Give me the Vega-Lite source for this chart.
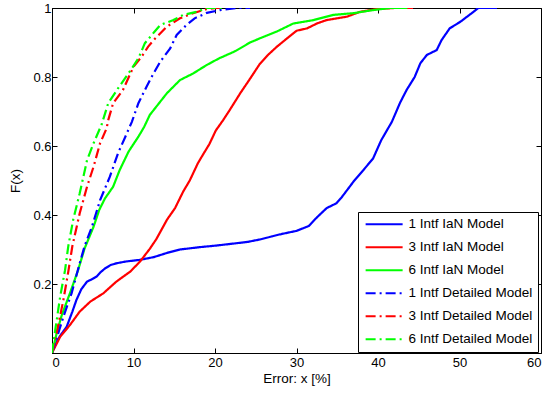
{
  "$schema": "https://vega.github.io/schema/vega-lite/v6.json",
  "width": 489,
  "height": 345,
  "autosize": {"type": "none"},
  "padding": {"left": 52, "top": 8, "right": 7, "bottom": 43},
  "background": "white",
  "config": {
    "view": {"stroke": "black", "strokeWidth": 1},
    "font": "Liberation Sans",
    "axis": {
      "grid": false,
      "domainColor": "black",
      "tickColor": "black",
      "labelColor": "black",
      "titleColor": "black",
      "labelFont": "Liberation Sans",
      "titleFont": "Liberation Sans",
      "labelFontSize": 13,
      "titleFontSize": 13.5,
      "titleFontWeight": "normal",
      "tickSize": -5
    }
  },
  "data": {
    "values": [
      {"s": "1 Intf IaN Model", "x": 0, "y": 0},
      {"s": "1 Intf IaN Model", "x": 0.5, "y": 0.03},
      {"s": "1 Intf IaN Model", "x": 1.0, "y": 0.05},
      {"s": "1 Intf IaN Model", "x": 1.8, "y": 0.076},
      {"s": "1 Intf IaN Model", "x": 2.5, "y": 0.12},
      {"s": "1 Intf IaN Model", "x": 3.0, "y": 0.154},
      {"s": "1 Intf IaN Model", "x": 3.6, "y": 0.185},
      {"s": "1 Intf IaN Model", "x": 4.3, "y": 0.207},
      {"s": "1 Intf IaN Model", "x": 5.0, "y": 0.215},
      {"s": "1 Intf IaN Model", "x": 5.5, "y": 0.222},
      {"s": "1 Intf IaN Model", "x": 6.0, "y": 0.235},
      {"s": "1 Intf IaN Model", "x": 6.5, "y": 0.245},
      {"s": "1 Intf IaN Model", "x": 7.2, "y": 0.255},
      {"s": "1 Intf IaN Model", "x": 7.9, "y": 0.26},
      {"s": "1 Intf IaN Model", "x": 9.0, "y": 0.265},
      {"s": "1 Intf IaN Model", "x": 10.8, "y": 0.27},
      {"s": "1 Intf IaN Model", "x": 12.5, "y": 0.278},
      {"s": "1 Intf IaN Model", "x": 14.1, "y": 0.29},
      {"s": "1 Intf IaN Model", "x": 15.7, "y": 0.3},
      {"s": "1 Intf IaN Model", "x": 18.2, "y": 0.307},
      {"s": "1 Intf IaN Model", "x": 20.0, "y": 0.311},
      {"s": "1 Intf IaN Model", "x": 22.2, "y": 0.317},
      {"s": "1 Intf IaN Model", "x": 24.0, "y": 0.322},
      {"s": "1 Intf IaN Model", "x": 25.5, "y": 0.329},
      {"s": "1 Intf IaN Model", "x": 27.0, "y": 0.338},
      {"s": "1 Intf IaN Model", "x": 28.0, "y": 0.344},
      {"s": "1 Intf IaN Model", "x": 30.0, "y": 0.354},
      {"s": "1 Intf IaN Model", "x": 31.5, "y": 0.368},
      {"s": "1 Intf IaN Model", "x": 32.5, "y": 0.393},
      {"s": "1 Intf IaN Model", "x": 33.7, "y": 0.42},
      {"s": "1 Intf IaN Model", "x": 34.9, "y": 0.434},
      {"s": "1 Intf IaN Model", "x": 35.5, "y": 0.45},
      {"s": "1 Intf IaN Model", "x": 36.3, "y": 0.475},
      {"s": "1 Intf IaN Model", "x": 37.0, "y": 0.497},
      {"s": "1 Intf IaN Model", "x": 38.2, "y": 0.53},
      {"s": "1 Intf IaN Model", "x": 39.4, "y": 0.564},
      {"s": "1 Intf IaN Model", "x": 40.4, "y": 0.617},
      {"s": "1 Intf IaN Model", "x": 41.7, "y": 0.67},
      {"s": "1 Intf IaN Model", "x": 42.7, "y": 0.725},
      {"s": "1 Intf IaN Model", "x": 43.5, "y": 0.762},
      {"s": "1 Intf IaN Model", "x": 44.5, "y": 0.8},
      {"s": "1 Intf IaN Model", "x": 45.2, "y": 0.84},
      {"s": "1 Intf IaN Model", "x": 46.0, "y": 0.864},
      {"s": "1 Intf IaN Model", "x": 47.2, "y": 0.878},
      {"s": "1 Intf IaN Model", "x": 47.8, "y": 0.907},
      {"s": "1 Intf IaN Model", "x": 48.8, "y": 0.941},
      {"s": "1 Intf IaN Model", "x": 50.1, "y": 0.96},
      {"s": "1 Intf IaN Model", "x": 51.5, "y": 0.985},
      {"s": "1 Intf IaN Model", "x": 52.3, "y": 1},
      {"s": "1 Intf IaN Model", "x": 54.6, "y": 1},

      {"s": "3 Intf IaN Model", "x": 0, "y": 0},
      {"s": "3 Intf IaN Model", "x": 1.0, "y": 0.047},
      {"s": "3 Intf IaN Model", "x": 2.2, "y": 0.081},
      {"s": "3 Intf IaN Model", "x": 3.4, "y": 0.12},
      {"s": "3 Intf IaN Model", "x": 4.7, "y": 0.149},
      {"s": "3 Intf IaN Model", "x": 6.3, "y": 0.173},
      {"s": "3 Intf IaN Model", "x": 7.9, "y": 0.207},
      {"s": "3 Intf IaN Model", "x": 9.6, "y": 0.236},
      {"s": "3 Intf IaN Model", "x": 10.8, "y": 0.265},
      {"s": "3 Intf IaN Model", "x": 12.0, "y": 0.302},
      {"s": "3 Intf IaN Model", "x": 12.8, "y": 0.33},
      {"s": "3 Intf IaN Model", "x": 13.5, "y": 0.36},
      {"s": "3 Intf IaN Model", "x": 14.1, "y": 0.386},
      {"s": "3 Intf IaN Model", "x": 15.1, "y": 0.42},
      {"s": "3 Intf IaN Model", "x": 16.1, "y": 0.468},
      {"s": "3 Intf IaN Model", "x": 16.9, "y": 0.5},
      {"s": "3 Intf IaN Model", "x": 17.9, "y": 0.55},
      {"s": "3 Intf IaN Model", "x": 18.6, "y": 0.578},
      {"s": "3 Intf IaN Model", "x": 19.3, "y": 0.605},
      {"s": "3 Intf IaN Model", "x": 20.1, "y": 0.645},
      {"s": "3 Intf IaN Model", "x": 21.0, "y": 0.675},
      {"s": "3 Intf IaN Model", "x": 21.8, "y": 0.704},
      {"s": "3 Intf IaN Model", "x": 23.1, "y": 0.753},
      {"s": "3 Intf IaN Model", "x": 24.3, "y": 0.795},
      {"s": "3 Intf IaN Model", "x": 25.5, "y": 0.838},
      {"s": "3 Intf IaN Model", "x": 26.5, "y": 0.864},
      {"s": "3 Intf IaN Model", "x": 27.6, "y": 0.888},
      {"s": "3 Intf IaN Model", "x": 29.0, "y": 0.915},
      {"s": "3 Intf IaN Model", "x": 30.0, "y": 0.934},
      {"s": "3 Intf IaN Model", "x": 31.3, "y": 0.941},
      {"s": "3 Intf IaN Model", "x": 32.5, "y": 0.955},
      {"s": "3 Intf IaN Model", "x": 33.7, "y": 0.965},
      {"s": "3 Intf IaN Model", "x": 36.2, "y": 0.975},
      {"s": "3 Intf IaN Model", "x": 37.8, "y": 0.989},
      {"s": "3 Intf IaN Model", "x": 39.8, "y": 0.997},
      {"s": "3 Intf IaN Model", "x": 42.0, "y": 1},
      {"s": "3 Intf IaN Model", "x": 44.3, "y": 1},

      {"s": "6 Intf IaN Model", "x": 0, "y": 0},
      {"s": "6 Intf IaN Model", "x": 0.6, "y": 0.06},
      {"s": "6 Intf IaN Model", "x": 1.2, "y": 0.11},
      {"s": "6 Intf IaN Model", "x": 2.2, "y": 0.173},
      {"s": "6 Intf IaN Model", "x": 3.2, "y": 0.24},
      {"s": "6 Intf IaN Model", "x": 4.0, "y": 0.303},
      {"s": "6 Intf IaN Model", "x": 5.1, "y": 0.366},
      {"s": "6 Intf IaN Model", "x": 5.8, "y": 0.415},
      {"s": "6 Intf IaN Model", "x": 6.5, "y": 0.448},
      {"s": "6 Intf IaN Model", "x": 7.5, "y": 0.482},
      {"s": "6 Intf IaN Model", "x": 8.3, "y": 0.53},
      {"s": "6 Intf IaN Model", "x": 9.4, "y": 0.584},
      {"s": "6 Intf IaN Model", "x": 10.6, "y": 0.627},
      {"s": "6 Intf IaN Model", "x": 11.3, "y": 0.655},
      {"s": "6 Intf IaN Model", "x": 12.0, "y": 0.69},
      {"s": "6 Intf IaN Model", "x": 12.8, "y": 0.714},
      {"s": "6 Intf IaN Model", "x": 14.1, "y": 0.753},
      {"s": "6 Intf IaN Model", "x": 15.7, "y": 0.791},
      {"s": "6 Intf IaN Model", "x": 17.3, "y": 0.81},
      {"s": "6 Intf IaN Model", "x": 19.0, "y": 0.835},
      {"s": "6 Intf IaN Model", "x": 20.5, "y": 0.854},
      {"s": "6 Intf IaN Model", "x": 22.5, "y": 0.875},
      {"s": "6 Intf IaN Model", "x": 24.3, "y": 0.9},
      {"s": "6 Intf IaN Model", "x": 25.5, "y": 0.912},
      {"s": "6 Intf IaN Model", "x": 27.6, "y": 0.932},
      {"s": "6 Intf IaN Model", "x": 29.6, "y": 0.955},
      {"s": "6 Intf IaN Model", "x": 32.1, "y": 0.965},
      {"s": "6 Intf IaN Model", "x": 34.5, "y": 0.98},
      {"s": "6 Intf IaN Model", "x": 37.0, "y": 0.985},
      {"s": "6 Intf IaN Model", "x": 39.4, "y": 0.994},
      {"s": "6 Intf IaN Model", "x": 41.5, "y": 1},
      {"s": "6 Intf IaN Model", "x": 43.6, "y": 1},

      {"s": "1 Intf Detailed Model", "x": 0, "y": 0},
      {"s": "1 Intf Detailed Model", "x": 1.4, "y": 0.105},
      {"s": "1 Intf Detailed Model", "x": 2.4, "y": 0.173},
      {"s": "1 Intf Detailed Model", "x": 3.4, "y": 0.26},
      {"s": "1 Intf Detailed Model", "x": 4.0, "y": 0.31},
      {"s": "1 Intf Detailed Model", "x": 4.9, "y": 0.366},
      {"s": "1 Intf Detailed Model", "x": 5.9, "y": 0.443},
      {"s": "1 Intf Detailed Model", "x": 7.1, "y": 0.511},
      {"s": "1 Intf Detailed Model", "x": 8.1, "y": 0.579},
      {"s": "1 Intf Detailed Model", "x": 9.0, "y": 0.627},
      {"s": "1 Intf Detailed Model", "x": 9.8, "y": 0.67},
      {"s": "1 Intf Detailed Model", "x": 10.6, "y": 0.724},
      {"s": "1 Intf Detailed Model", "x": 11.6, "y": 0.772},
      {"s": "1 Intf Detailed Model", "x": 12.4, "y": 0.808},
      {"s": "1 Intf Detailed Model", "x": 13.3, "y": 0.845},
      {"s": "1 Intf Detailed Model", "x": 14.5, "y": 0.883},
      {"s": "1 Intf Detailed Model", "x": 15.3, "y": 0.922},
      {"s": "1 Intf Detailed Model", "x": 16.5, "y": 0.951},
      {"s": "1 Intf Detailed Model", "x": 17.5, "y": 0.97},
      {"s": "1 Intf Detailed Model", "x": 19.0, "y": 0.986},
      {"s": "1 Intf Detailed Model", "x": 20.6, "y": 0.994},
      {"s": "1 Intf Detailed Model", "x": 22.7, "y": 1},
      {"s": "1 Intf Detailed Model", "x": 24.3, "y": 1},

      {"s": "3 Intf Detailed Model", "x": 0, "y": 0},
      {"s": "3 Intf Detailed Model", "x": 0.6, "y": 0.062},
      {"s": "3 Intf Detailed Model", "x": 1.4, "y": 0.154},
      {"s": "3 Intf Detailed Model", "x": 2.0, "y": 0.236},
      {"s": "3 Intf Detailed Model", "x": 2.5, "y": 0.31},
      {"s": "3 Intf Detailed Model", "x": 3.4, "y": 0.405},
      {"s": "3 Intf Detailed Model", "x": 4.3, "y": 0.482},
      {"s": "3 Intf Detailed Model", "x": 5.1, "y": 0.54},
      {"s": "3 Intf Detailed Model", "x": 5.9, "y": 0.608},
      {"s": "3 Intf Detailed Model", "x": 6.7, "y": 0.651},
      {"s": "3 Intf Detailed Model", "x": 6.9, "y": 0.675},
      {"s": "3 Intf Detailed Model", "x": 7.5, "y": 0.724},
      {"s": "3 Intf Detailed Model", "x": 8.7, "y": 0.762},
      {"s": "3 Intf Detailed Model", "x": 10.0, "y": 0.83},
      {"s": "3 Intf Detailed Model", "x": 11.0, "y": 0.859},
      {"s": "3 Intf Detailed Model", "x": 11.8, "y": 0.888},
      {"s": "3 Intf Detailed Model", "x": 12.6, "y": 0.91},
      {"s": "3 Intf Detailed Model", "x": 14.1, "y": 0.946},
      {"s": "3 Intf Detailed Model", "x": 15.7, "y": 0.97},
      {"s": "3 Intf Detailed Model", "x": 17.3, "y": 0.985},
      {"s": "3 Intf Detailed Model", "x": 19.0, "y": 0.997},
      {"s": "3 Intf Detailed Model", "x": 20.2, "y": 1},
      {"s": "3 Intf Detailed Model", "x": 21.0, "y": 1},

      {"s": "6 Intf Detailed Model", "x": 0, "y": 0},
      {"s": "6 Intf Detailed Model", "x": 0.4, "y": 0.067},
      {"s": "6 Intf Detailed Model", "x": 1.0, "y": 0.163},
      {"s": "6 Intf Detailed Model", "x": 1.6, "y": 0.24},
      {"s": "6 Intf Detailed Model", "x": 2.0, "y": 0.31},
      {"s": "6 Intf Detailed Model", "x": 2.6, "y": 0.386},
      {"s": "6 Intf Detailed Model", "x": 3.4, "y": 0.463},
      {"s": "6 Intf Detailed Model", "x": 4.3, "y": 0.559},
      {"s": "6 Intf Detailed Model", "x": 5.1, "y": 0.608},
      {"s": "6 Intf Detailed Model", "x": 6.1, "y": 0.663},
      {"s": "6 Intf Detailed Model", "x": 6.9, "y": 0.724},
      {"s": "6 Intf Detailed Model", "x": 8.1, "y": 0.767},
      {"s": "6 Intf Detailed Model", "x": 9.8, "y": 0.825},
      {"s": "6 Intf Detailed Model", "x": 10.6, "y": 0.854},
      {"s": "6 Intf Detailed Model", "x": 11.4, "y": 0.898},
      {"s": "6 Intf Detailed Model", "x": 12.6, "y": 0.932},
      {"s": "6 Intf Detailed Model", "x": 13.3, "y": 0.951},
      {"s": "6 Intf Detailed Model", "x": 14.9, "y": 0.965},
      {"s": "6 Intf Detailed Model", "x": 16.1, "y": 0.98},
      {"s": "6 Intf Detailed Model", "x": 17.8, "y": 0.989},
      {"s": "6 Intf Detailed Model", "x": 19.0, "y": 1},
      {"s": "6 Intf Detailed Model", "x": 21.0, "y": 1}
    ]
  },
  "layer": [
    {
      "mark": {"type": "line", "strokeWidth": 2.2, "clip": true},
      "encoding": {
        "x": {
          "field": "x", "type": "quantitative",
          "scale": {"domain": [0, 60], "nice": false},
          "axis": {"values": [0, 10, 20, 30, 40, 50, 60], "title": "Error: x [%]", "labelPadding": 8, "titlePadding": 2, "domain": true}
        },
        "y": {
          "field": "y", "type": "quantitative",
          "scale": {"domain": [0, 1], "nice": false},
          "axis": {"values": [0.2, 0.4, 0.6, 0.8, 1], "format": "~g", "title": "F(x)", "labelPadding": 6, "titlePadding": 10}
        },
        "color": {
          "field": "s", "type": "nominal",
          "scale": {
            "domain": ["1 Intf IaN Model", "3 Intf IaN Model", "6 Intf IaN Model", "1 Intf Detailed Model", "3 Intf Detailed Model", "6 Intf Detailed Model"],
            "range": ["#0000ff", "#ff0000", "#00ff00", "#0000ff", "#ff0000", "#00ff00"]
          },
          "legend": {
            "title": null,
            "orient": "none",
            "legendX": 306,
            "legendY": 204,
            "symbolType": "M-1,0H7",
            "symbolSize": 85.6,
            "symbolStrokeWidth": 2,
            "symbolFillColor": "transparent",
            "labelFont": "Liberation Sans",
            "labelFontSize": 13.5,
            "labelColor": "black",
            "labelOffset": 31.5,
            "rowPadding": 8,
            "padding": 5.5,
            "strokeColor": "black",
            "fillColor": "white",
            "cornerRadius": 0
          }
        },
        "strokeDash": {
          "field": "s", "type": "nominal",
          "scale": {
            "domain": ["1 Intf IaN Model", "3 Intf IaN Model", "6 Intf IaN Model", "1 Intf Detailed Model", "3 Intf Detailed Model", "6 Intf Detailed Model"],
            "range": [[1, 0], [1, 0], [1, 0], [10, 4, 2, 4], [10, 4, 2, 4], [10, 4, 2, 4]]
          }
        }
      }
    },
    {
      "mark": {"type": "point", "opacity": 0},
      "encoding": {
        "x": {
          "field": "x", "type": "quantitative",
          "axis": {"orient": "top", "values": [0, 10, 20, 30, 40, 50, 60], "labels": false, "title": null, "domain": false}
        },
        "y": {
          "field": "y", "type": "quantitative",
          "axis": {"orient": "right", "values": [0.2, 0.4, 0.6, 0.8, 1], "labels": false, "title": null, "domain": false}
        }
      }
    }
  ],
  "resolve": {"axis": {"x": "independent", "y": "independent"}}
}
